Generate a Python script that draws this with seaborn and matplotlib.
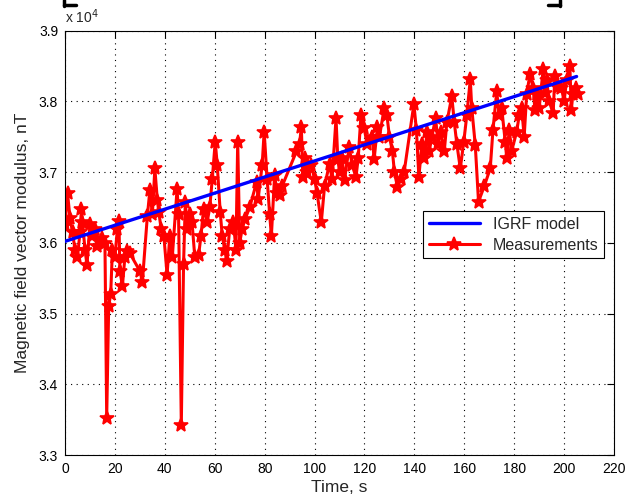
import matplotlib
matplotlib.use("Agg")
import matplotlib.pyplot as plt
import seaborn as sns
import numpy as np
import pandas as pd
from matplotlib.ticker import FuncFormatter, MultipleLocator
from matplotlib.lines import Line2D

# IGRF model (straight trend)
igrf_time = [0, 205]
igrf_field = [36020, 38350]

# measured field modulus, nT
meas_time = [0, 1, 2, 3, 4, 5, 6, 6.6, 7, 8,
             8.8, 10, 11, 12, 13, 15, 16, 16.7, 17.5, 18.3,
             19, 20, 21, 21.6, 22, 23, 24, 25, 26, 30,
             31, 33, 34, 35, 36, 37, 37.6, 38.5, 39.6, 40.9,
             42, 43, 44.9, 45.5, 46.6, 47.5, 48.2, 49, 50, 50.9,
             52, 53.5, 54.5, 55.5, 57, 58, 59, 60.2, 61, 62.2,
             63, 64, 64.8, 66, 67.5, 68.5, 69.2, 70, 71, 72.1,
             74, 76.8, 77.4, 79, 79.8, 81, 82, 82.7, 84, 85,
             86, 87, 92.7, 94, 94.7, 95.3, 96, 97, 98.7, 100,
             101, 102.7, 104, 106, 107, 108.6, 109.3, 110, 111, 112,
             113.9, 115, 116.6, 117.5, 118.6, 119.9, 121, 123, 123.9, 125.2,
             126, 127.9, 129, 130, 131.2, 132, 133.2, 134.5, 135.9, 139.8,
             140.8, 141.8, 143, 144, 145.1, 146, 147, 148.5, 149.5, 150.5,
             152, 153, 155, 156, 157, 158.4, 159.8, 161, 162.4, 163,
             164.4, 165.7, 168, 170.4, 171.5, 173, 174, 175, 176.4, 177,
             178, 179, 181, 182, 183, 184, 185, 186.3, 187.6, 188.3,
             189, 190, 191.6, 192.3, 193, 194, 195.6, 196.3, 197.5, 198.9,
             200, 201, 202.3, 202.9, 203.5, 204.9, 205.5]
meas_field = [36250, 36700, 36350, 36150, 35900, 35800, 36150, 36480, 36300, 35900,
              35690, 36260, 36100, 36200, 35950, 36070, 36000, 33530, 35100, 35280,
              35900, 35800, 36200, 36310, 35600, 35390, 35800, 35880, 35850, 35600,
              35450, 36380, 36740, 36400, 37050, 36600, 36430, 36200, 36100, 35550,
              36100, 35800, 36760, 36400, 33430, 35700, 36570, 36200, 36400, 36290,
              35800, 35820, 36100, 36480, 36300, 36500, 36900, 37430, 37100, 36430,
              36100, 35900, 35740, 36200, 36290, 35900, 37430, 36000, 36200, 36330,
              36500, 36860, 36620, 37100, 37570, 36900, 36400, 36100, 36960, 36700,
              36670, 36800, 37290, 37400, 37640, 36930, 37200, 37000, 37100, 36900,
              36700, 36290, 36800, 37120, 36900, 37760, 37190, 37000, 37200, 36890,
              37360, 37100, 36930, 37200, 37810, 37620, 37400, 37500, 37190, 37640,
              37500, 37900, 37800, 37500, 37290, 37000, 36790, 36900, 37000, 37960,
              37600, 36930, 37400, 37200, 37570, 37300, 37500, 37760, 37400, 37570,
              37300, 37700, 38070, 37700, 37400, 37050, 37430, 37800, 38310, 37900,
              37380, 36580, 36800, 37050, 37600, 38140, 37800, 37900, 37430, 37200,
              37600, 37300, 37570, 37800, 37900, 37500, 38100, 38380, 38190, 37880,
              38100, 37900, 38450, 38120, 38300, 38000, 37830, 38360, 38200, 38190,
              38000, 38300, 38500, 37880, 38100, 38190, 38100]

sns.set_style("white")
plt.rcParams['font.family'] = ['Liberation Sans', 'DejaVu Sans']
plt.rcParams['font.size'] = 10

fig = plt.figure(figsize=(6.27, 5.01), dpi=100, facecolor='white')
ax = fig.add_axes([0.1037, 0.0918, 0.8756, 0.8473])

igrf = pd.DataFrame({'t': igrf_time, 'B': igrf_field})
meas = pd.DataFrame({'t': meas_time, 'B': meas_field})

sns.lineplot(data=meas, x='t', y='B', ax=ax, color='#ff0000', lw=2.2,
             marker='*', markersize=10, markeredgewidth=1.2, markeredgecolor='#ff0000',
             sort=False, estimator=None, label='Measurements', zorder=2)
sns.lineplot(data=igrf, x='t', y='B', ax=ax, color='#0000ff', lw=2.4,
             sort=False, estimator=None, label='IGRF model', zorder=3)

ax.set_xlim(0, 220)
ax.set_ylim(33000, 39000)
ax.xaxis.set_major_locator(MultipleLocator(20))
ax.yaxis.set_major_locator(MultipleLocator(1000))
ax.yaxis.set_major_formatter(FuncFormatter(lambda v, p: f"{v / 1e4:.1f}"))
ax.grid(True, color='black', linestyle=(0, (1, 4)), lw=0.8)
ax.tick_params(direction='in', length=5, width=0.8, top=True, right=True,
               labelsize=10, pad=5, colors='black')
for s in ax.spines.values():
    s.set_color('black')
    s.set_linewidth(0.8)

ax.set_xlabel('Time, s', fontsize=12.5, labelpad=3)
ax.set_ylabel('Magnetic field vector modulus, nT', fontsize=12.5, labelpad=6)
ax.text(0.0, 1.01, r'x 10$^{4}$', transform=ax.transAxes, ha='left', va='bottom', fontsize=10)

handles, labels = ax.get_legend_handles_labels()
order = [labels.index('IGRF model'), labels.index('Measurements')]
leg = ax.legend([handles[i] for i in order], [labels[i] for i in order],
                loc='upper right', bbox_to_anchor=(0.982, 0.574), fontsize=11.5,
                frameon=True, fancybox=False, edgecolor='black', framealpha=1,
                handlelength=3.2, borderpad=0.35, labelspacing=0.35, borderaxespad=0)
leg.get_frame().set_linewidth(0.8)

# clipped bracket marks along the top edge
for x0, x1 in [(64, 76), (560, 548)]:
    fig.add_artist(Line2D([x0 / 627, x0 / 627], [1, 1 - 6 / 501], color='black', lw=2.5, transform=fig.transFigure))
    fig.add_artist(Line2D([x0 / 627, x1 / 627], [1 - 5 / 501, 1 - 5 / 501], color='black', lw=2.5, transform=fig.transFigure))

fig.savefig('out.png', dpi=100, facecolor='white')
